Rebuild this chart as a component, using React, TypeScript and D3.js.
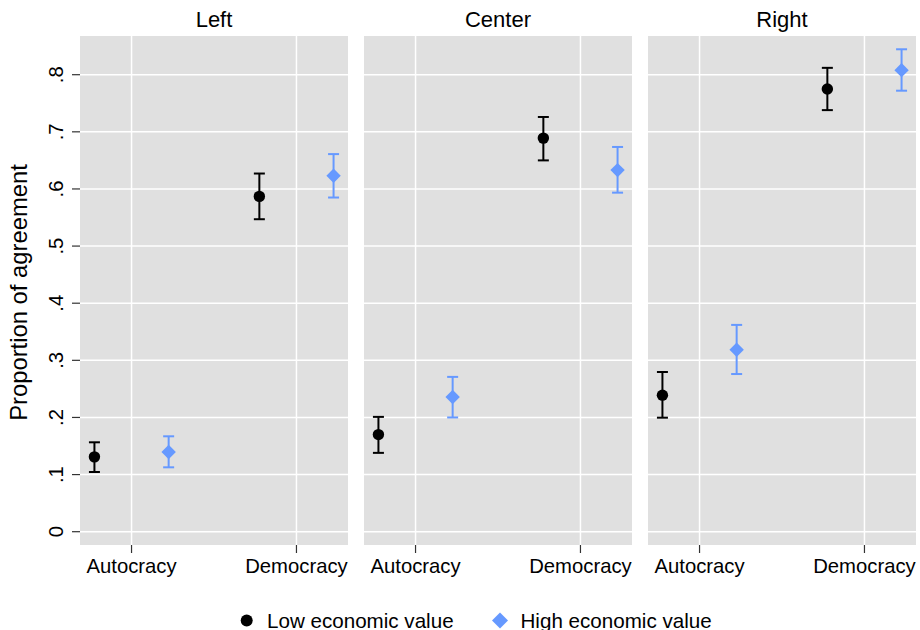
import React from "react";
import * as d3 from "d3";

const panels = ["Left", "Center", "Right"];
const categories = ["Autocracy", "Democracy"];
const seriesNames = ["Low economic value", "High economic value"];

// [panel][category]
const lowMean = [[0.131, 0.587], [0.170, 0.689], [0.239, 0.775]];
const lowLower = [[0.1045, 0.547], [0.138, 0.650], [0.1996, 0.738]];
const lowUpper = [[0.1565, 0.627], [0.201, 0.726], [0.2796, 0.812]];
const highMean = [[0.1395, 0.623], [0.2358, 0.633], [0.3186, 0.808]];
const highLower = [[0.1127, 0.585], [0.200, 0.5935], [0.276, 0.772]];
const highUpper = [[0.167, 0.661], [0.271, 0.6735], [0.362, 0.8445]];

const yTickValues = [0, 0.1, 0.2, 0.3, 0.4, 0.5, 0.6, 0.7, 0.8];
const yTickLabels = ["0", ".1", ".2", ".3", ".4", ".5", ".6", ".7", ".8"];

const FONT = "'Liberation Sans', Arial, Helvetica, sans-serif";
const BG = "#e0e0e0";
const BLUE = "#6699ff";
const BLACK = "#000000";

const W = 920;
const H = 630;
const panelLefts = [80, 364, 648];
const panelWidth = 268;
const panelTop = 36;
const panelBottom = 545;
const offset = 0.225;

export default function App() {
  const x = d3.scaleLinear().domain([-0.3125, 1.3125]).range([0, panelWidth]);
  const y = d3.scaleLinear().domain([0, 0.8]).range([531.7, 74.7]);

  const series = [
    { name: seriesNames[0], mean: lowMean, lo: lowLower, hi: lowUpper, color: BLACK, shape: "circle", dx: -offset },
    { name: seriesNames[1], mean: highMean, lo: highLower, hi: highUpper, color: BLUE, shape: "diamond", dx: offset },
  ];

  const diamond = (cx: number, cy: number, r: number) =>
    `M${cx},${cy - r}L${cx + r},${cy}L${cx},${cy + r}L${cx - r},${cy}Z`;

  return (
    <svg width={W} height={H} style={{ position: "absolute", left: 0, top: 0, background: "#fff" }} fontFamily={FONT}>
      {/* Y axis title */}
      <text transform={`translate(27,292.5) rotate(-90)`} textAnchor="middle" fontSize={23.8} fill="#000">
        Proportion of agreement
      </text>
      {/* Y ticks */}
      {yTickValues.map((v, i) => (
        <g key={"yt" + i}>
          <line x1={72} x2={80} y1={y(v)} y2={y(v)} stroke="#333" strokeWidth={1.2} />
          <text transform={`translate(63,${y(v)}) rotate(-90)`} textAnchor="middle" fontSize={20.3} fill="#000">
            {yTickLabels[i]}
          </text>
        </g>
      ))}
      {panels.map((p, pi) => {
        const left = panelLefts[pi];
        return (
          <g key={p} transform={`translate(${left},0)`}>
            <rect x={0} y={panelTop} width={panelWidth} height={panelBottom - panelTop} fill={BG} />
            {yTickValues.map((v, i) => (
              <line key={"gy" + i} x1={0} x2={panelWidth} y1={y(v)} y2={y(v)} stroke="#fff" strokeWidth={1.5} />
            ))}
            {categories.map((c, ci) => (
              <g key={c}>
                <line x1={x(ci)} x2={x(ci)} y1={panelTop} y2={panelBottom} stroke="#fff" strokeWidth={1.5} />
                <line x1={x(ci)} x2={x(ci)} y1={panelBottom} y2={553} stroke="#333" strokeWidth={1.2} />
                <text x={x(ci)} y={573} textAnchor="middle" fontSize={20.3} fill="#000">
                  {c}
                </text>
              </g>
            ))}
            <text x={panelWidth / 2} y={26.5} textAnchor="middle" fontSize={22} fill="#000">
              {p}
            </text>
            {series.map((s) =>
              categories.map((c, ci) => {
                const cx = x(ci + s.dx);
                const cy = y(s.mean[pi][ci]);
                const yl = y(s.lo[pi][ci]);
                const yh = y(s.hi[pi][ci]);
                return (
                  <g key={s.name + c}>
                    <line x1={cx} x2={cx} y1={yl} y2={yh} stroke={s.color} strokeWidth={2} />
                    <line x1={cx - 5.5} x2={cx + 5.5} y1={yl} y2={yl} stroke={s.color} strokeWidth={2} />
                    <line x1={cx - 5.5} x2={cx + 5.5} y1={yh} y2={yh} stroke={s.color} strokeWidth={2} />
                    {s.shape === "circle" ? (
                      <circle cx={cx} cy={cy} r={5.7} fill={s.color} />
                    ) : (
                      <path d={diamond(cx, cy, 7.2)} fill={s.color} />
                    )}
                  </g>
                );
              })
            )}
          </g>
        );
      })}
      {/* Legend */}
      <circle cx={246.7} cy={620.5} r={6} fill={BLACK} />
      <text x={267} y={627.5} fontSize={20.6} fill="#000">{seriesNames[0]}</text>
      <path d={diamond(500, 620.5, 8)} fill={BLUE} />
      <text x={520.5} y={627.5} fontSize={20.6} fill="#000">{seriesNames[1]}</text>
    </svg>
  );
}
